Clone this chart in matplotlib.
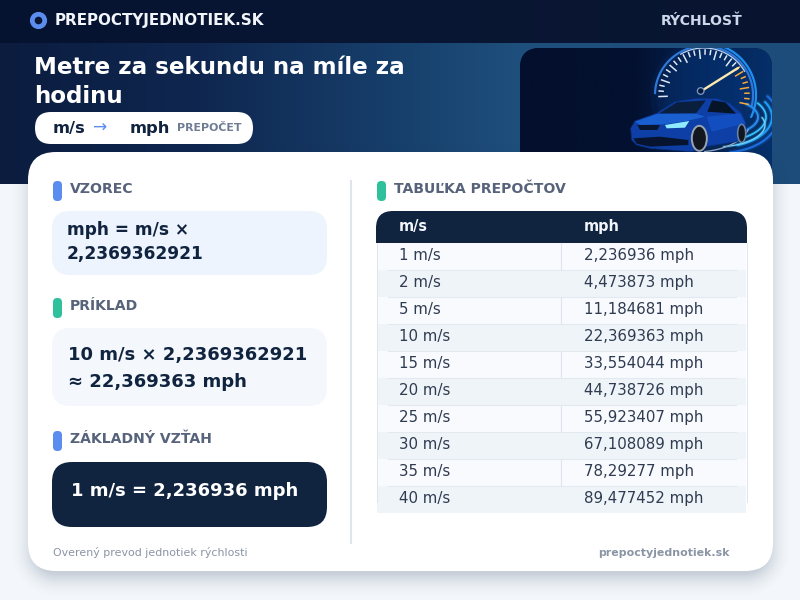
import matplotlib
matplotlib.use('Agg')
import matplotlib.pyplot as plt
import numpy as np
from matplotlib.colors import to_rgb
from matplotlib.patches import Circle, Ellipse, FancyBboxPatch, Polygon, Rectangle

ms_values = ['1 m/s', '2 m/s', '5 m/s', '10 m/s', '15 m/s', '20 m/s', '25 m/s', '30 m/s', '35 m/s', '40 m/s']
mph_values = ['2,236936 mph', '4,473873 mph', '11,184681 mph', '22,369363 mph', '33,554044 mph',
              '44,738726 mph', '55,923407 mph', '67,108089 mph', '78,29277 mph', '89,477452 mph']
table_head = ['m/s', 'mph']

NAVY = '#10233f'
BLUE = '#5b8dee'
GREEN = '#2fc09c'
LABEL = '#56637a'

plt.rcParams['font.family'] = ['DejaVu Sans']
fig = plt.figure(figsize=(8, 6), dpi=100)
ax = fig.add_axes([0, 0, 1, 1])
ax.set_xlim(0, 800)
ax.set_ylim(600, 0)
ax.axis('off')


def rbox(x0, y0, x1, y1, r, color, z=2, alpha=1.0):
    p = FancyBboxPatch((x0 + r, y0 + r), x1 - x0 - 2 * r, y1 - y0 - 2 * r,
                       boxstyle=f'round,pad={r},rounding_size={r}', fc=color, ec='none', lw=0,
                       alpha=alpha, zorder=z)
    ax.add_patch(p)
    return p


def hgrad(x0, y0, x1, y1, stops, colors, z=1, clip=None):
    xs = np.linspace(0, 1, 400)
    rgb = np.array([to_rgb(c) for c in colors])
    img = np.stack([np.interp(xs, stops, rgb[:, i]) for i in range(3)], axis=-1)[None, :, :]
    im = ax.imshow(img, extent=(x0, x1, y1, y0), aspect='auto', zorder=z, interpolation='bilinear')
    if clip is not None:
        im.set_clip_path(clip)
    return im


def px(size):
    # css px to points at 100 dpi
    return size * 0.72


def label(x, y, s, size, color, weight='normal', ha='left', z=6):
    # y is the text baseline
    ax.text(x, y, s, fontsize=px(size), color=color, fontweight=weight, ha=ha, va='baseline', zorder=z)


def section(x, top, base, s, color):
    rbox(x, top, x + 9, top + 20, 4.2, color, z=6)
    label(x + 17, base, s, 14, LABEL, 'bold')


def z3(points):
    # picture sketch was measured on a 3x crop
    return [(620 + a / 3, 45 + b / 3) for a, b in points]


def curve(cx, cy, rx, ry, a0, a1, color, lw, clip, z=2.5, alpha=1.0):
    t = np.radians(np.linspace(a0, a1, 80))
    line, = ax.plot(cx + rx * np.cos(t), cy - ry * np.sin(t), color=color, lw=lw, alpha=alpha, zorder=z,
                    solid_capstyle='round')
    line.set_clip_path(clip)


# background
ax.add_patch(Rectangle((0, 0), 800, 600, fc='#f3f7fb', ec='none', zorder=0))
hgrad(0, 43, 800, 184, [0, 0.25, 0.5, 0.65, 1], ['#0b1c3f', '#0f2750', '#17406c', '#1f4f7d', '#1d4c7a'])
hgrad(0, 0, 800, 43, [0, 0.5, 1], ['#061330', '#0a1734', '#08142f'], z=1.5)

# header
ax.add_patch(Circle((38.5, 20.5), 6.2, fc='none', ec=BLUE, lw=3.4, zorder=5))
ax.add_patch(Circle((38.5, 20.5), 3, fc='#0a1734', ec='none', zorder=5))
label(55, 25, 'PREPOCTYJEDNOTIEK.SK', 15.1, '#f2f6fc', 'bold')
label(743, 25, 'RÝCHLOSŤ', 14, '#cdd8ea', 'bold', ha='right')

# title and pill
label(34, 74, 'Metre za sekundu na míle za', 23, 'white', 'bold')
label(34, 103, 'hodinu', 23, 'white', 'bold')
rbox(35, 112, 253, 144, 16, 'white', z=3)
label(53, 133, 'm/s', 16.4, NAVY, 'bold')
label(93, 133, '→', 17, BLUE)
label(130, 133, 'mph', 16.4, NAVY, 'bold')
label(177, 131, 'PREPOČET', 11, '#6f7d94', 'bold')

# speedometer picture, drawn roughly
frame = rbox(520, 48, 772, 190, 20, '#03102e', z=2)
hgrad(520, 48, 772, 190, [0, 0.45, 0.7, 1], ['#030f2c', '#031130', '#04204e', '#06306a'], z=2.1, clip=frame)
for r, a in [(54, 0.12), (48, 0.15), (40, 0.15)]:
    c = Circle((704, 95), r, fc='#0a3f8c', ec='none', alpha=a, zorder=2.2)
    ax.add_patch(c)
    c.set_clip_path(frame)
curve(704, 95, 49, 49, 178, -12, '#2f78d8', 1.6, frame)
curve(704, 95, 47, 47, 120, 30, '#bcd4f2', 0.9, frame)
curve(704, 95, 52, 52, 100, -25, '#1d8ff0', 1.6, frame)
for cx, cy, rx, ry, a0, a1, c, lw in [(720, 117, 52, 30, 30, -70, '#1f9cf5', 1.5), (720, 117, 46, 24, 35, -60, '#37c4ff', 1.2),
                                      (720, 117, 58, 36, 35, -80, '#1b6fe0', 1.5), (720, 117, 38, 18, 45, -50, '#2a8ff0', 1.4),
                                      (715, 125, 50, 22, 20, -80, '#6fd8ff', 0.9)]:
    curve(cx, cy, rx, ry, a0, a1, c, lw * 2.4, frame, alpha=0.22)
    curve(cx, cy, rx, ry, a0, a1, c, lw, frame)
curve(695, 122, 55, 30, -15, -80, '#8fa6bf', 1.0, frame, z=2.6)
for a in np.linspace(182, -12, 28):
    k = int(round((182 - a) / 194 * 27))
    r0 = 37 if k % 3 == 0 else 41
    c = '#f5ab3c' if a < 42 else '#dce8f7'
    ca, sa = np.cos(np.radians(a)), np.sin(np.radians(a))
    ax.plot([704 + r0 * ca, 704 + 45 * ca], [95 - r0 * sa, 95 - 45 * sa], color=c, lw=1.1, zorder=2.6)
ax.plot([703, 738], [90, 68], color='#fde9b0', lw=1.7, solid_capstyle='round', zorder=2.7)
ax.add_patch(Circle((700.7, 91), 3.3, fc='#06183a', ec='#7f9cc4', lw=0.9, zorder=2.8))

car_body = z3([(35, 285), (32, 250), (45, 228), (110, 205), (165, 170), (230, 160), (290, 160), (330, 175), (365, 205),
               (378, 235), (378, 270), (350, 290), (255, 305), (215, 320), (90, 310), (50, 300)])
ax.add_patch(Polygon(car_body, fc='#0d3fa6', ec='#0a2f7c', lw=0.5, zorder=3))
ax.add_patch(Polygon(z3([(45, 230), (110, 207), (225, 205), (255, 215), (200, 228), (130, 238), (60, 240)]),
                     fc='#1a5fd0', ec='none', zorder=3.1))
ax.add_patch(Polygon(z3([(260, 215), (360, 205), (376, 235), (275, 260)]), fc='#124ec0', ec='none', zorder=3.1))
ax.add_patch(Polygon(z3([(118, 205), (170, 172), (258, 166), (228, 205)]), fc='#0a1f3e', ec='none', zorder=3.2))
ax.add_patch(Polygon(z3([(262, 200), (276, 166), (316, 172), (348, 206)]), fc='#061428', ec='none', zorder=3.2))
ax.add_patch(Polygon(z3([(40, 280), (120, 275), (205, 285), (205, 300), (90, 305), (50, 296)]), fc='#061430', ec='none', zorder=3.2))
ax.add_patch(Polygon(z3([(52, 240), (120, 240), (112, 255), (60, 255)]), fc='#08172f', ec='none', zorder=3.3))
ax.add_patch(Polygon(z3([(135, 240), (208, 228), (195, 248), (140, 250)]), fc='#8feaff', ec='none', zorder=3.3))
ax.add_patch(Ellipse((620 + 238 / 3, 45 + 280 / 3), 15, 25, fc='#12161e', ec='#9aa6b4', lw=1.4, zorder=3.4))
ax.add_patch(Ellipse((620 + 365 / 3, 45 + 265 / 3), 8, 18, fc='#12161e', ec='#6a86a4', lw=1.1, zorder=3.4))

# card with soft shadow
yy, xx = np.mgrid[130:600, 0:800]
qx = np.abs(xx - 400.5) - (372.5 - 28)
qy = np.abs(yy - 369.5) - (209.5 - 28)
dist = np.hypot(np.maximum(qx, 0), np.maximum(qy, 0)) + np.minimum(np.maximum(qx, qy), 0) - 28
shadow = np.zeros(dist.shape + (4,))
shadow[..., :3] = to_rgb('#1c3350')
shadow[..., 3] = 0.2 * np.clip(1 - (dist + 6) / 26, 0, 1) ** 2
ax.imshow(shadow, extent=(0, 800, 600, 130), aspect='auto', zorder=3.5, interpolation='bilinear')
ax.set_xlim(0, 800)
ax.set_ylim(600, 0)

rbox(28, 152, 773, 571, 28, 'white', z=4)
ax.plot([351, 351], [181, 543], color='#dfe5ec', lw=1.5, zorder=5)

# left column
section(53, 181, 193, 'VZOREC', BLUE)
rbox(52, 211, 327, 275, 18, '#eef4fd', z=5)
label(67, 235, 'mph = m/s ×', 17, NAVY, 'bold')
label(67, 259, '2,2369362921', 17, NAVY, 'bold')

section(53, 298, 310, 'PRÍKLAD', GREEN)
rbox(52, 328, 327, 406, 18, '#f4f8fc', z=5)
label(68, 360, '10 m/s × 2,2369362921', 18, NAVY, 'bold')
label(68, 387, '≈ 22,369363 mph', 18, NAVY, 'bold')

section(53, 431, 443, 'ZÁKLADNÝ VZŤAH', BLUE)
rbox(52, 462, 327, 527, 20, NAVY, z=5)
label(71, 496, '1 m/s = 2,236936 mph', 18, 'white', 'bold')

# table
section(377, 181, 193, 'TABUĽKA PREPOČTOV', GREEN)
head = rbox(376, 211, 747, 262, 17, NAVY, z=5)
head.set_clip_path(Rectangle((376, 211), 371, 32, transform=ax.transData))
col_x = [399, 584]
for x, s in zip(col_x, table_head):
    label(x, 231, s, 14.5, '#f2f6fc', 'bold')
row_h = 27
for i, (a, b) in enumerate(zip(ms_values, mph_values)):
    top = 243 + i * row_h
    ax.add_patch(Rectangle((377, top), 369, row_h, fc='#eef4f8' if i % 2 else '#f8fafe', ec='none', zorder=5))
    if i % 2 == 0:
        ax.plot([561, 561], [top, top + row_h], color='#dde5ee', lw=0.8, zorder=5.2)
    if i:
        ax.plot([388, 736], [top, top], color='#e2e9f1', lw=0.8, zorder=5.2)
    label(col_x[0], top + 17, a, 15, '#2f3b50')
    label(col_x[1], top + 17, b, 15, '#2f3b50')
for x in [376.8, 746.6]:
    ax.plot([x, x], [243, 502], color='#dde5ee', lw=0.7, zorder=5.3)

# footer
label(53, 556, 'Overený prevod jednotiek rýchlosti', 11, '#8a94a4')
label(730, 556, 'prepoctyjednotiek.sk', 11, '#8a94a4', 'bold', ha='right')

fig.savefig('out.png', dpi=100)
